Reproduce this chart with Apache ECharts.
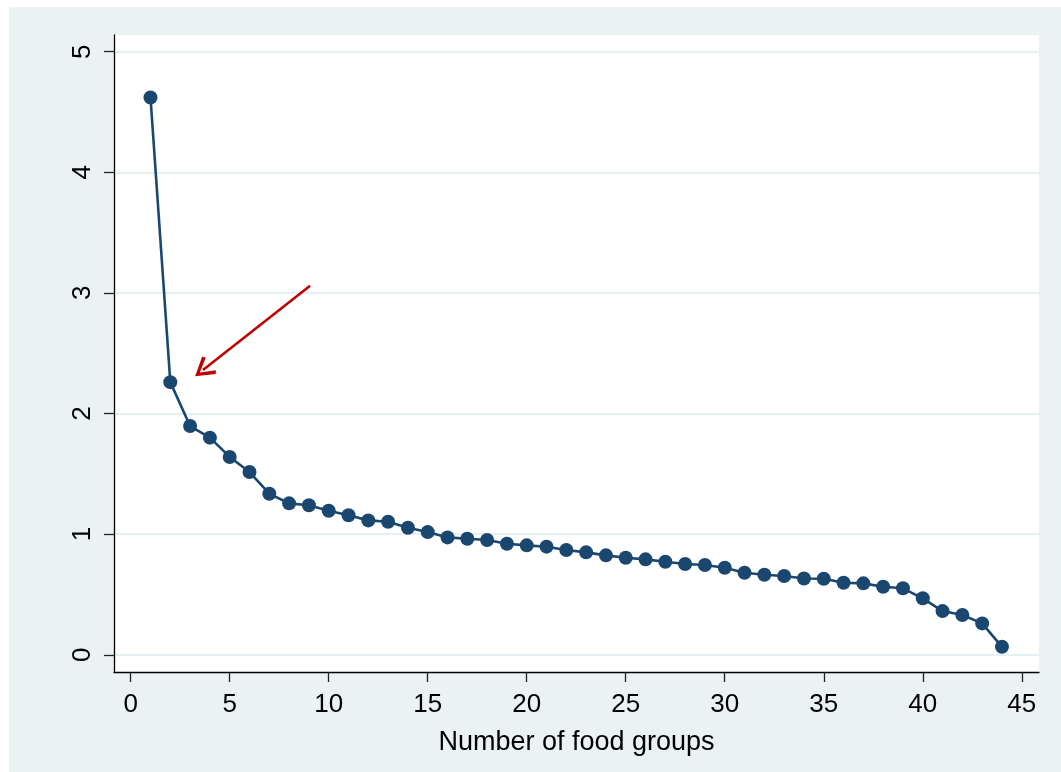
<!DOCTYPE html>
<html><head><meta charset="utf-8">
<script src="https://cdn.jsdelivr.net/npm/echarts@6/dist/echarts.min.js"></script>
<style>html,body{margin:0;padding:0;background:#fff}#c{width:1061px;height:772px}</style>
</head><body><div id="c"></div><script>
// Data
const foodGroups = [1,2,3,4,5,6,7,8,9,10,11,12,13,14,15,16,17,18,19,20,21,22,23,24,25,26,27,28,29,30,31,32,33,34,35,36,37,38,39,40,41,42,43,44];
const eigenvalues = [4.62,2.26,1.896,1.80,1.64,1.515,1.335,1.255,1.239,1.194,1.156,1.114,1.103,1.053,1.017,0.973,0.962,0.951,0.920,0.907,0.896,0.868,0.849,0.824,0.804,0.791,0.771,0.752,0.744,0.721,0.680,0.663,0.653,0.632,0.630,0.597,0.592,0.564,0.551,0.468,0.362,0.329,0.260,0.066];
const xTickLabels = [0,5,10,15,20,25,30,35,40,45];
const yTickLabels = [0,1,2,3,4,5];
const xTitle = 'Number of food groups';
// annotation arrow (data coordinates)
const arrowFrom = [9.06, 3.06];
const arrowTo = [3.65, 2.36];

const chart = echarts.init(document.getElementById('c'), null, {renderer: 'canvas'});
const font = 'Liberation Sans, Arial, Helvetica, sans-serif';
const option = {
  animation: false,
  backgroundColor: '#ffffff',
  graphic: [{
    type: 'rect', z: -10, silent: true,
    shape: {x: 9, y: 7, width: 1052, height: 765},
    style: {fill: '#EAF2F3'}
  }],
  grid: {
    left: 114, top: 35, right: 22, bottom: 100,
    show: true, backgroundColor: '#ffffff', borderWidth: 0
  },
  xAxis: {
    type: 'value', min: -0.843, max: 45.87,
    name: xTitle, nameLocation: 'middle', nameGap: 57,
    nameTextStyle: {fontFamily: font, fontSize: 27, color: '#000'},
    axisLine: {show: true, onZero: false, lineStyle: {color: '#000', width: 1.3}},
    axisTick: {show: true, length: 10, lineStyle: {color: '#222', width: 1.3}, customValues: xTickLabels},
    axisLabel: {fontFamily: font, fontSize: 26, color: '#000', margin: 20, customValues: xTickLabels,
      showMinLabel: true, showMaxLabel: true},
    splitLine: {show: false}
  },
  yAxis: {
    type: 'value', min: -0.143, max: 5.138,
    axisLine: {show: true, onZero: false, lineStyle: {color: '#000', width: 1.3}},
    axisTick: {show: true, length: 10, lineStyle: {color: '#222', width: 1.3}, customValues: yTickLabels},
    axisLabel: {fontFamily: font, fontSize: 26, color: '#000', margin: 18, rotate: 90, customValues: yTickLabels},
    splitLine: {show: true, lineStyle: {color: '#E6EFF1', width: 2}}
  },
  series: [{
    type: 'line',
    data: foodGroups.map((x, i) => [x, eigenvalues[i]]),
    symbol: 'circle', symbolSize: 14,
    lineStyle: {color: '#1a476f', width: 2.6},
    itemStyle: {color: '#1a476f'},
    z: 3,
    markLine: {
      silent: true,
      symbol: ['none', 'path://M50,0 L100,88 L87,100 L50,30 L13,100 L0,88 Z'],
      symbolSize: [22, 20],
      label: {show: false},
      lineStyle: {color: '#c00000', width: 2.5, type: 'solid'},
      data: [[{coord: arrowFrom}, {coord: arrowTo}]]
    }
  }]
};
chart.setOption(option);
</script></body></html>
